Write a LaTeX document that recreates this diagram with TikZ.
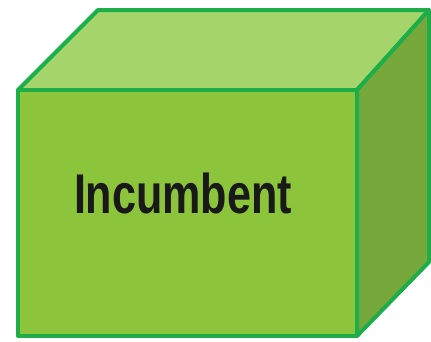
\documentclass[tikz,border=0pt]{standalone}
\usepackage{fontspec}
\setmainfont{Liberation Sans}
\definecolor{edgegreen}{HTML}{1DAE4A}
\definecolor{frontgreen}{HTML}{8CC43C}
\definecolor{topgreen}{HTML}{A4D46A}
\definecolor{sidegreen}{HTML}{76A83C}
\begin{document}
\begin{tikzpicture}[x=1pt,y=-1pt,
  face/.style={draw=edgegreen,line width=4pt,line join=round}]
\useasboundingbox (0,0) rectangle (431,341);
% corner points of the box
\coordinate (ftl) at (18,90);
\coordinate (ftr) at (357,90);
\coordinate (fbr) at (357,336);
\coordinate (fbl) at (18,336);
\coordinate (btl) at (98,10);
\coordinate (btr) at (429,10);
\coordinate (bbr) at (429,262);
% top and side faces
\filldraw[face,fill=topgreen] (ftl) -- (btl) -- (btr) -- (ftr) -- cycle;
\filldraw[face,fill=sidegreen] (ftr) -- (btr) -- (bbr) -- (fbr) -- cycle;
% front face with its label
\filldraw[face,fill=frontgreen] (ftl) -- (ftr) -- (fbr) -- (fbl) -- cycle;
\node[text=black!90] (label) at (183,193) {\fontsize{56}{60}\selectfont\scalebox{0.77}[1]{\bfseries Incumbent}};
\end{tikzpicture}
\end{document}
